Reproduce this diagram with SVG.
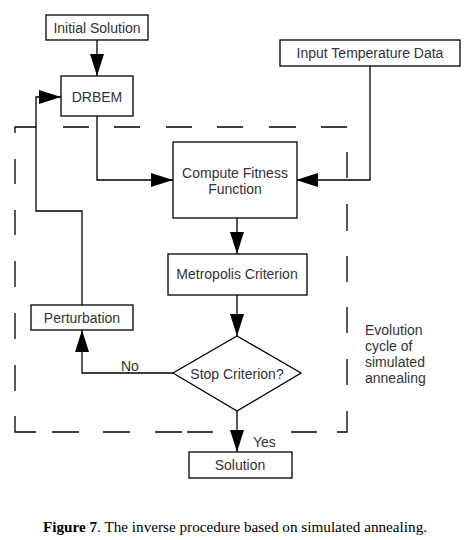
<svg xmlns="http://www.w3.org/2000/svg" width="471" height="540" viewBox="0 0 471 540">
<style>
.box{fill:#fff;stroke:#000;stroke-width:1.3}
.ln{fill:none;stroke:#000;stroke-width:1.3}
.dash{fill:none;stroke:#000;stroke-width:1.3}
.t{font-family:"Liberation Sans",Arial,sans-serif;font-size:14px;fill:#333;text-anchor:middle}
.tl{font-family:"Liberation Sans",Arial,sans-serif;font-size:14px;fill:#333}
.cap{font-family:"Liberation Serif","Times New Roman",serif;font-size:15.2px;fill:#000}
</style>
<defs>
<marker id="ah" markerUnits="userSpaceOnUse" markerWidth="22" markerHeight="14" refX="22" refY="7" orient="auto">
<path d="M0,0 L22,7 L0,14 Z" fill="#000"/>
</marker>
</defs>
<rect width="471" height="540" fill="#fff"/>
<g id="evolution-cycle">
<path class="dash" d="M15,133 V127 H36 M63,127 H89 M114,127 H140 M166,127 H192 M217,127 H243 M269,127 H296 M321,127 H347 M347,152 V178 M347,204 V231 M347,256 V282 M347,307 V333 M347,359 V385 M347,411 V432 H337 M317,432 H291 M213,432 H187 M182,432 H155 M130,432 H103 M79,432 H52 M36,432 H15 V416 M15,391 V365 M15,339 V313 M15,287 V261 M15,235 V210 M15,184 V159"/>
<text class="tl" x="365" y="335">Evolution</text>
<text class="tl" x="365" y="351">cycle of</text>
<text class="tl" x="365" y="367">simulated</text>
<text class="tl" x="365" y="383">annealing</text>
</g>
<g id="connectors">
<path class="ln" d="M97,40 V76" marker-end="url(#ah)"/>
<path class="ln" d="M82,305 V211 H36 V97 H61" marker-end="url(#ah)"/>
<path class="ln" d="M97,116 V180 H173" marker-end="url(#ah)"/>
<path class="ln" d="M370,66 V180 H296" marker-end="url(#ah)"/>
<path class="ln" d="M237,218 V254" marker-end="url(#ah)"/>
<path class="ln" d="M237,295 V336" marker-end="url(#ah)"/>
<path class="ln" d="M173,373 H82 V330" marker-end="url(#ah)"/>
<path class="ln" d="M237,411 V452" marker-end="url(#ah)"/>
<text class="tl" x="121" y="371">No</text>
<text class="tl" x="253" y="447">Yes</text>
</g>
<g id="initial-solution">
<rect class="box" x="46" y="15" width="102" height="25"/>
<text class="t" x="97" y="33">Initial Solution</text>
</g>
<g id="drbem">
<rect class="box" x="61" y="76" width="72" height="40"/>
<text class="t" x="97" y="102">DRBEM</text>
</g>
<g id="input-temperature-data">
<rect class="box" x="280" y="40" width="180" height="26"/>
<text class="t" x="370" y="58">Input Temperature Data</text>
</g>
<g id="compute-fitness">
<rect class="box" x="173" y="142" width="124" height="76"/>
<text class="t" x="235" y="178">Compute Fitness</text>
<text class="t" x="235" y="194">Function</text>
</g>
<g id="metropolis">
<rect class="box" x="168" y="254" width="139" height="41"/>
<text class="t" x="237" y="279">Metropolis Criterion</text>
</g>
<g id="stop-criterion">
<path class="box" d="M237,336 L301,373 L237,411 L173,373 Z" stroke-width="1"/>
<text class="t" x="237" y="379">Stop Criterion?</text>
</g>
<g id="perturbation">
<rect class="box" x="31" y="305" width="102" height="25"/>
<text class="t" x="82" y="323">Perturbation</text>
</g>
<g id="solution">
<rect class="box" x="189" y="452" width="103" height="26"/>
<text class="t" x="240" y="470">Solution</text>
</g>
<text class="cap" x="235" y="532" text-anchor="middle"><tspan font-weight="bold">Figure 7</tspan>. The inverse procedure based on simulated annealing.</text>
</svg>
